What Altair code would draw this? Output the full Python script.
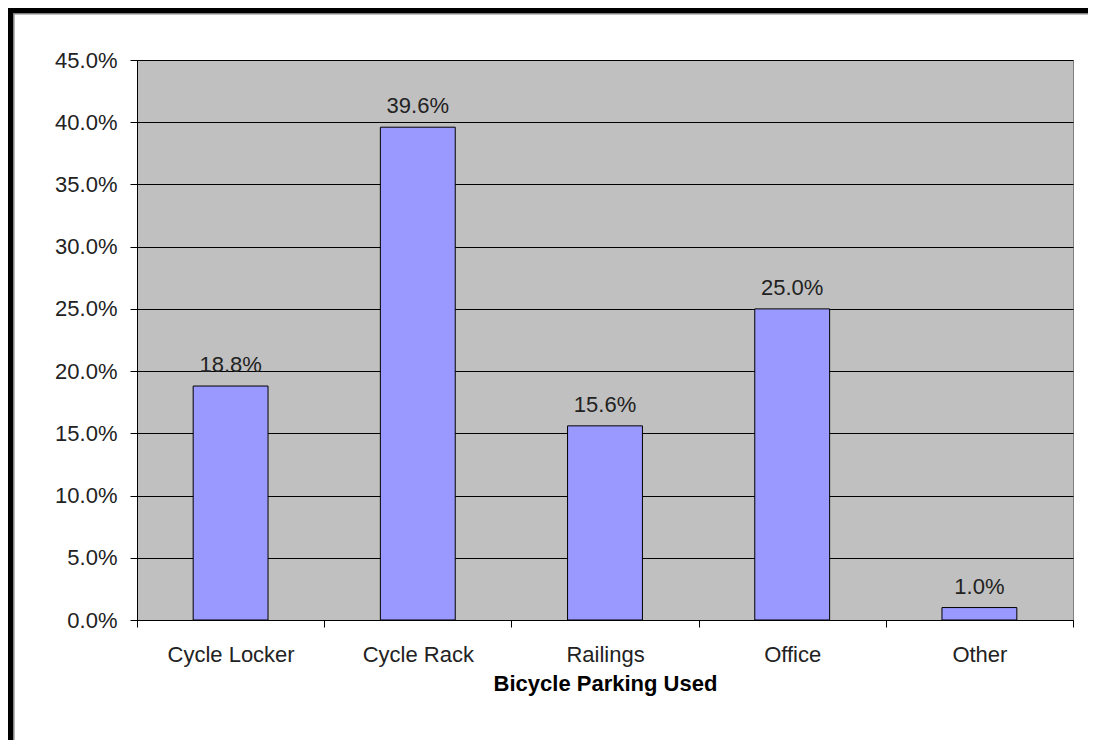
import altair as alt
import pandas as pd

categories = ["Cycle Locker", "Cycle Rack", "Railings", "Office", "Other"]
shares = [0.188, 0.396, 0.156, 0.25, 0.01]
y_ticks = [0, 0.05, 0.10, 0.15, 0.20, 0.25, 0.30, 0.35, 0.40, 0.45]

df = pd.DataFrame({"cat": categories, "share": shares})

FONT = "Liberation Sans"
FS = 22

x = alt.X(
    "cat:N",
    sort=categories,
    scale=alt.Scale(paddingInner=0, paddingOuter=0),
    axis=alt.Axis(
        title="Bicycle Parking Used",
        labelAngle=0,
        tickBand="extent",
        tickSize=7,
        tickColor="#000000",
        domainColor="#000000",
        labelPadding=17,
        labelFontSize=FS,
        labelFont=FONT,
        labelColor="#222222",
        titleFont=FONT,
        titleFontSize=FS,
        titleFontWeight="bold",
        titleColor="#000000",
        titlePadding=8,
        grid=False,
    ),
)

y = alt.Y(
    "share:Q",
    scale=alt.Scale(domain=[0, 0.45], nice=False),
    axis=alt.Axis(
        title=None,
        values=y_ticks,
        format=".1%",
        tickSize=7,
        tickColor="#000000",
        domainColor="#000000",
        labelPadding=13,
        labelFontSize=FS,
        labelFont=FONT,
        labelColor="#222222",
        grid=True,
        gridColor="#000000",
        gridWidth=1,
    ),
)

base = alt.Chart(df)

bars = base.mark_bar(
    color="#9999FF", stroke="#000000", strokeWidth=1, width=alt.RelativeBandSize(0.4)
).encode(x=x, y=y)

labels = base.mark_text(
    baseline="alphabetic", dy=-14, fontSize=FS, font=FONT, color="#222222"
).encode(x=x, y=y, text=alt.Text("share:Q", format=".1%"))

frame_df = pd.DataFrame({"a": [0]})
frame = alt.Chart(frame_df)
left_black = frame.mark_rule(color="#000000", strokeWidth=5).encode(
    x=alt.value(-126.5), y=alt.value(-55), y2=alt.value(690)
)
top_black = frame.mark_rule(color="#000000", strokeWidth=5).encode(
    x=alt.value(-129), x2=alt.value(975), y=alt.value(-49.5)
)
left_gray = frame.mark_rule(color="#808080", strokeWidth=1.5).encode(
    x=alt.value(-123.2), y=alt.value(-47), y2=alt.value(690)
)
top_gray = frame.mark_rule(color="#808080", strokeWidth=1.5).encode(
    x=alt.value(-124), x2=alt.value(975), y=alt.value(-46.2)
)

chart = (
    alt.layer(bars, labels, left_black, top_black, left_gray, top_gray)
    .properties(
        width=936,
        height=560,
        autosize=alt.AutoSizeParams(type="none"),
        padding={"left": 129, "top": 52, "right": 15, "bottom": 120},
        background="#FFFFFF",
    )
    .configure_view(fill="#C0C0C0", stroke="#808080", strokeWidth=1)
)

chart.save("out.html", embed_options={"renderer": "svg", "actions": False})
